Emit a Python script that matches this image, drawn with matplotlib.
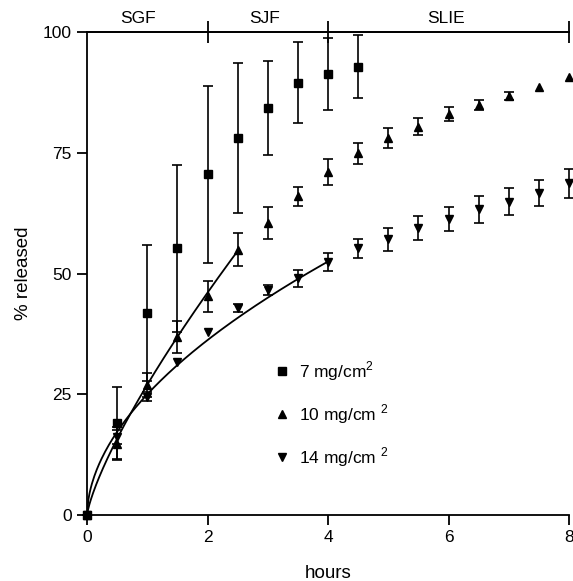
import matplotlib.pyplot as plt
from matplotlib.lines import Line2D
import numpy as np

plt.rcParams['font.family'] = ['Liberation Sans', 'DejaVu Sans']
plt.rcParams['mathtext.fontset'] = 'custom'
plt.rcParams['mathtext.rm'] = 'Liberation Sans'

# data
t7 = [0, 0.5, 1, 1.5, 2, 2.5, 3, 3.5, 4, 4.5]
y7 = [0, 19.1, 41.8, 55.2, 70.5, 78.0, 84.2, 89.5, 91.3, 92.8]
e7 = [0, 7.5, 14.0, 17.3, 18.3, 15.5, 9.7, 8.4, 7.5, 6.5]

t10 = [0, 0.5, 1, 1.5, 2, 2.5, 3, 3.5, 4, 4.5, 5, 5.5, 6, 6.5, 7, 7.5, 8]
y10 = [0, 14.8, 26.9, 36.9, 45.3, 54.9, 60.5, 66.0, 71.1, 74.9, 78.1, 80.4,
       83.0, 84.9, 86.7, 88.7, 90.6]
e10 = [0, 3.4, 2.5, 3.3, 3.2, 3.4, 3.3, 2.0, 2.7, 2.2, 2.1, 1.8, 1.4, 1.1,
       0.8, np.nan, np.nan]

t14 = [0, 0.5, 1, 1.5, 2, 2.5, 3, 3.5, 4, 4.5, 5, 5.5, 6, 6.5, 7, 7.5, 8]
y14 = [0, 16.2, 24.5, 31.7, 37.9, 42.8, 46.6, 49.0, 52.4, 55.2, 57.1, 59.4,
       61.2, 63.3, 64.9, 66.6, 68.7]
e14 = [0, 1.5, 1.0, np.nan, np.nan, 0.8, 1.0, 1.7, 1.8, 2.0, 2.4, 2.5, 2.5,
       2.8, 2.8, 2.7, 3.0]

# power-law fits (k * t^n) drawn in the figure
fit10 = (27.0, 0.77, 2.5)
fit14 = (25.0, 0.535, 4.0)

labels = ['7 mg/cm$^2$', '10 mg/cm $^2$', '14 mg/cm $^2$']
markers = ['s', '^', 'v']
phases = ['SGF', 'SJF', 'SLIE']
phase_x = [0.85, 2.94, 5.96]

fig = plt.figure(figsize=(5.73, 5.81), dpi=100)
ax = fig.add_axes([0.152, 0.1136, 0.841, 0.8313])

kw = dict(color='k', ls='none', ms=5.5, capsize=3.5, elinewidth=1.2,
          capthick=1.2, clip_on=False, zorder=3)
for t, y, e, m in zip((t7, t10, t14), (y7, y10, y14), (e7, e10, e14), markers):
    ax.errorbar(t, y, yerr=e, marker=m, **kw)

for k, n, tend in (fit10, fit14):
    tt = np.linspace(0, tend, 200)
    ax.plot(tt, k * tt ** n, color='k', lw=1.3, zorder=2)

ax.set_xlim(0, 8)
ax.set_ylim(0, 100)
ax.set_xticks([0, 2, 4, 6, 8])
ax.set_yticks([0, 25, 50, 75, 100])
ax.spines['right'].set_visible(False)
for s in ax.spines.values():
    s.set_linewidth(1.3)
ax.tick_params(direction='out', length=7, width=1.3, labelsize=12.5, pad=4)
ax.set_xlabel('hours', fontsize=13.5, labelpad=14)
ax.set_ylabel('% released', fontsize=13.5, labelpad=8)

top = ax.secondary_xaxis('top')
top.set_xticks([2, 4, 8])
top.set_xticklabels([])
top.tick_params(direction='inout', length=16, width=1.3)
top.spines['top'].set_linewidth(1.3)

for name, px in zip(phases, phase_x):
    ax.text(px, 1.013, name, transform=ax.get_xaxis_transform(),
            ha='center', va='bottom', fontsize=12.5)

handles = [Line2D([], [], color='k', ls='none', marker=m, ms=5.5)
           for m in markers]
ax.legend(handles, labels, loc='upper left',
          bbox_to_anchor=(0.386, 0.322), frameon=False, fontsize=12.5,
          handlelength=1.0, handletextpad=0.5, labelspacing=1.12,
          borderpad=0, borderaxespad=0)

fig.savefig('out.png', dpi=100)
